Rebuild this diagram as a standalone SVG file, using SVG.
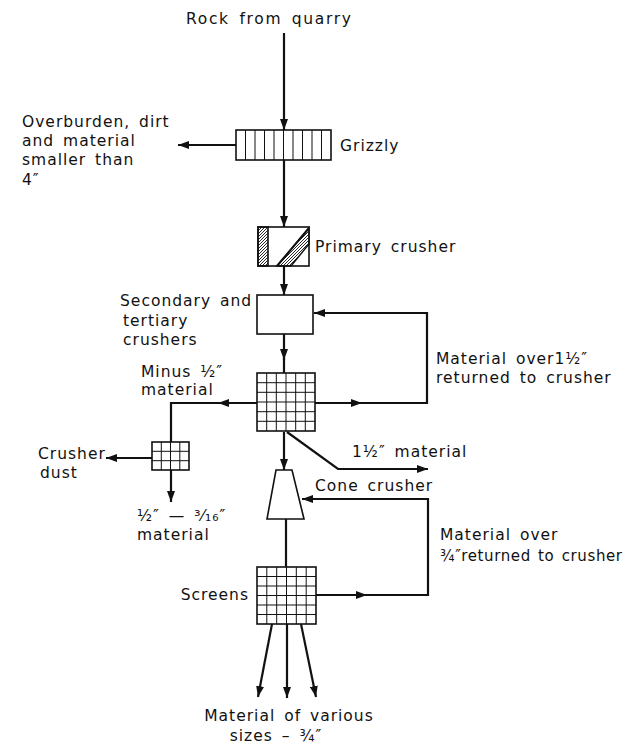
<svg xmlns="http://www.w3.org/2000/svg" width="633" height="747" viewBox="0 0 633 747">
<style>
.t{font-family:"DejaVu Sans","Liberation Sans",sans-serif;font-size:15.5px;letter-spacing:1px;word-spacing:3px;fill:#111}
.e{text-anchor:end}
.m{text-anchor:middle}
.c{fill:none;stroke:#111;stroke-width:2.2}
.b{fill:#fff;stroke:#111;stroke-width:1.6}
.g{fill:none;stroke:#111;stroke-width:1}
</style>
<defs>
<marker id="a" markerUnits="userSpaceOnUse" markerWidth="11" markerHeight="8" refX="11" refY="4" orient="auto">
<path d="M0,0 L11,4 L0,8 z" fill="#111"/>
</marker>
<pattern id="h" patternUnits="userSpaceOnUse" width="3" height="3">
<path d="M-1,1 L1,-1 M0,3 L3,0 M2,4 L4,2" stroke="#111" stroke-width="0.9"/>
</pattern>
</defs>
<rect width="633" height="747" fill="#fff"/>

<g id="connectors">
<path class="c" d="M284,33 V130" marker-end="url(#a)"/>
<path class="c" d="M236,145 H178" marker-end="url(#a)"/>
<path class="c" d="M284,160 V227" marker-end="url(#a)"/>
<path class="c" d="M284,266 V295" marker-end="url(#a)"/>
<path class="c" d="M284,334 V360" marker-end="url(#a)"/>
<path class="c" d="M284,358 V373"/>
<path class="c" d="M257,403 H218" marker-end="url(#a)"/>
<path class="c" d="M220,403 H171 V442"/>
<path class="c" d="M152,458 H106" marker-end="url(#a)"/>
<path class="c" d="M171,470 V502" marker-end="url(#a)"/>
<path class="c" d="M315,403 H362" marker-end="url(#a)"/>
<path class="c" d="M360,403 H427 V313 H314" marker-end="url(#a)"/>
<path class="c" d="M287,432 L338,469 H428" marker-end="url(#a)"/>
<path class="c" d="M284,432 V470" marker-end="url(#a)"/>
<path class="c" d="M286,519 V567"/>
<path class="c" d="M316,595 H367" marker-end="url(#a)"/>
<path class="c" d="M365,595 H428 V499 H302" marker-end="url(#a)"/>
<path class="c" d="M272,624 L258,697" marker-end="url(#a)"/>
<path class="c" d="M287,624 V698" marker-end="url(#a)"/>
<path class="c" d="M301,624 L316,697" marker-end="url(#a)"/>
</g>

<g id="source">
<text class="t" x="186" y="24" textLength="166" lengthAdjust="spacing">Rock from quarry</text>
</g>

<g id="grizzly">
<rect class="b" x="236" y="130" width="95" height="30"/>
<path class="g" d="M245.5,130V160M255,130V160M264.5,130V160M274,130V160M283.5,130V160M293,130V160M302.5,130V160M312,130V160M321.5,130V160"/>
<text class="t" x="340" y="151">Grizzly</text>
</g>

<g id="overburden">
<text class="t" x="22" y="127">Overburden, dirt</text>
<text class="t" x="22" y="146">and material</text>
<text class="t" x="22" y="165">smaller than</text>
<text class="t" x="22" y="185">4″</text>
</g>

<g id="primary-crusher">
<rect class="b" x="258" y="227" width="51" height="39"/>
<rect x="258" y="227" width="10" height="39" fill="url(#h)" stroke="#111" stroke-width="1.6"/>
<polygon points="277,266 309,228 309,244 291,266" fill="url(#h)" stroke="#111" stroke-width="1.4"/>
<path d="M277,266 L309,228" stroke="#111" stroke-width="2"/>
<text class="t" x="315" y="252">Primary crusher</text>
</g>

<g id="secondary-crushers">
<rect class="b" x="257" y="295" width="56" height="39"/>
<text class="t" x="120" y="306">Secondary and</text>
<text class="t" x="123" y="326">tertiary</text>
<text class="t" x="123" y="345">crushers</text>
</g>

<g id="screen1">
<rect class="b" x="257" y="373" width="58" height="58"/>
<path class="g" d="M266.7,373V431M276.3,373V431M286,373V431M295.7,373V431M305.3,373V431M257,382.7H315M257,392.3H315M257,402H315M257,411.7H315M257,421.3H315"/>
<text class="t" x="141" y="377">Minus ½″</text>
<text class="t" x="141" y="395">material</text>
<text class="t" x="436" y="364">Material over1½″</text>
<text class="t" x="436" y="383">returned to crusher</text>
</g>

<g id="dust-screen">
<rect class="b" x="152" y="442" width="37" height="28"/>
<path class="g" d="M161.3,442V470M170.5,442V470M179.8,442V470M152,451.3H189M152,460.7H189"/>
<text class="t" x="38" y="459">Crusher</text>
<text class="t" x="40" y="478">dust</text>
<text class="t" x="137" y="521">½″ — ³⁄₁₆″</text>
<text class="t" x="137" y="540">material</text>
</g>

<g id="product-1-5">
<text class="t" x="352" y="457">1½″ material</text>
</g>

<g id="cone-crusher">
<polygon class="b" points="276,470 292,470 304,519 267,519"/>
<text class="t" x="315" y="491">Cone crusher</text>
<text class="t" x="440" y="540">Material over</text>
<text class="t" x="440" y="561" style="letter-spacing:0.6px;word-spacing:2px;font-size:15px">¾″returned to crusher</text>
</g>

<g id="screens">
<rect class="b" x="257" y="567" width="59" height="57"/>
<path class="g" d="M266.8,567V624M276.7,567V624M286.5,567V624M296.3,567V624M306.2,567V624M257,576.5H316M257,586H316M257,595.5H316M257,605H316M257,614.5H316"/>
<text class="t e" x="249" y="600">Screens</text>
</g>

<g id="output">
<text class="t m" x="289" y="721">Material of various</text>
<text class="t m" x="276" y="741">sizes – ¾″</text>
</g>
</svg>
